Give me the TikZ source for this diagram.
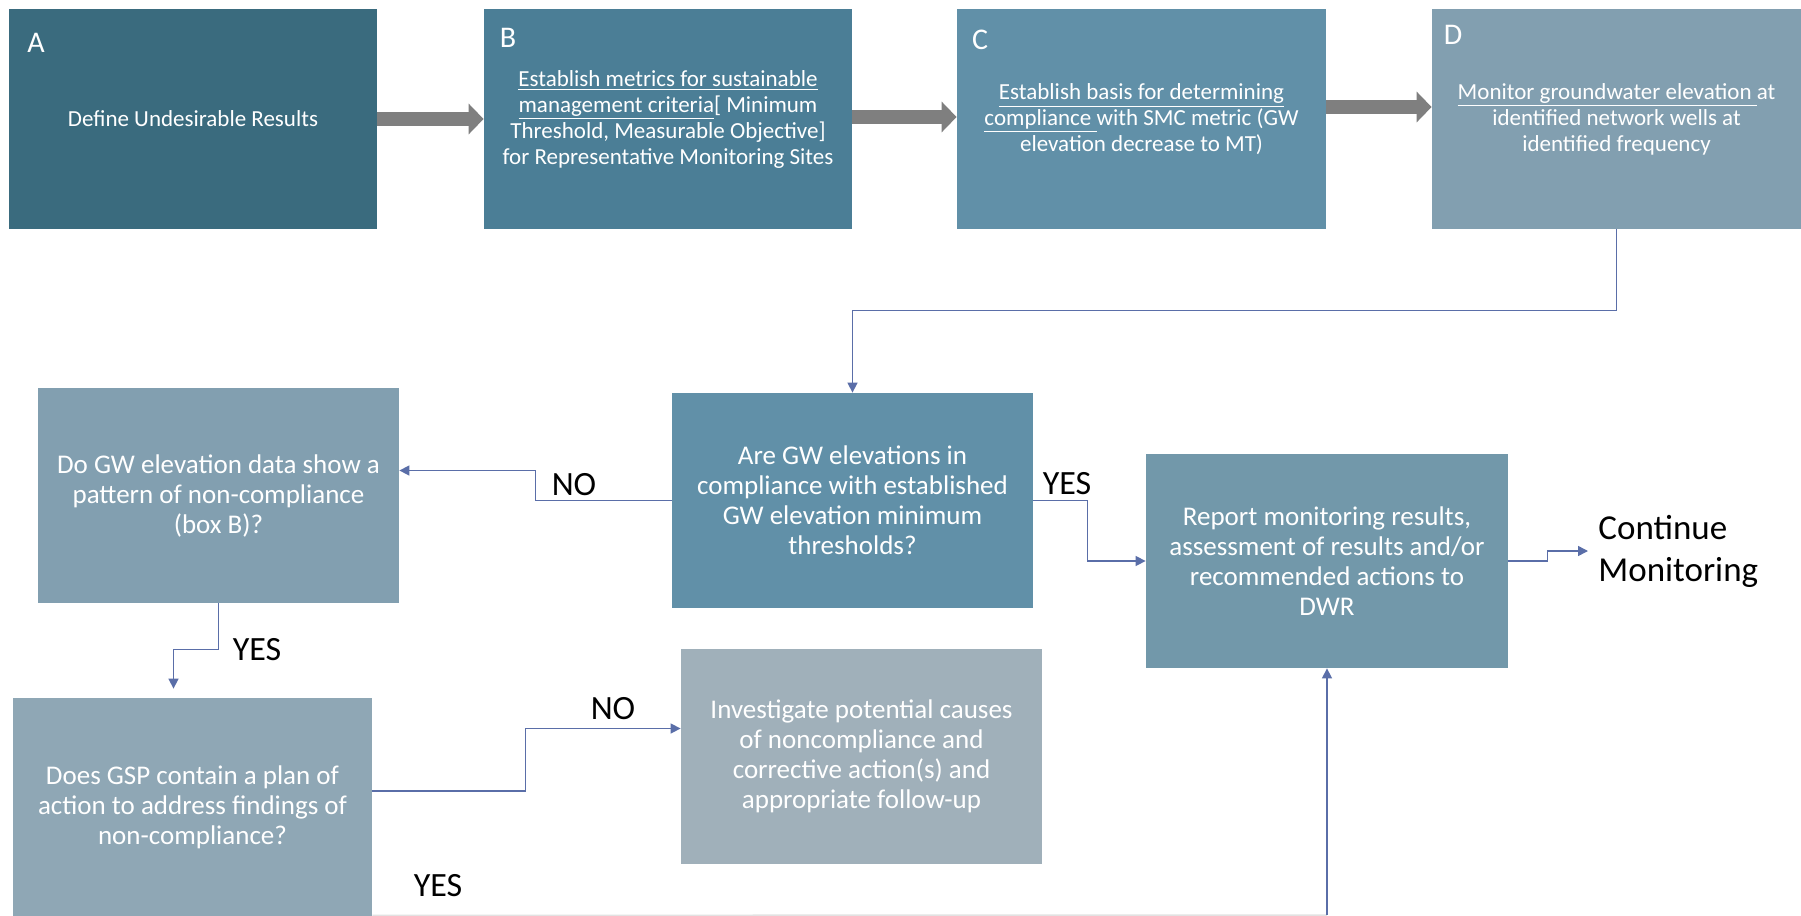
\documentclass[tikz,border=0pt]{standalone}
\usepackage{fontspec}
\setmainfont{Carlito}
\usetikzlibrary{arrows.meta}
\definecolor{cA}{HTML}{3A6B7E}
\definecolor{cB}{HTML}{4B7E96}
\definecolor{cC}{HTML}{6190A8}
\definecolor{cD}{HTML}{829FB0}
\definecolor{cQ}{HTML}{6190A8}
\definecolor{cP}{HTML}{829FB0}
\definecolor{cR}{HTML}{7298AA}
\definecolor{cG}{HTML}{8FA7B5}
\definecolor{cI}{HTML}{A0B0BA}
\definecolor{conncol}{HTML}{5A6EA8}
\definecolor{bigcol}{HTML}{7F7F7F}
\definecolor{faintcol}{HTML}{E2E2E2}
\begin{document}
\begin{tikzpicture}[x=0.5pt,y=-0.5pt,
  box/.style={rectangle, inner sep=0pt, text=white, align=center},
  topbox/.style={box, minimum width=184pt, minimum height=110pt, font=\fontsize{11.5}{13}\selectfont},
  midbox/.style={box, minimum width=180.5pt, minimum height=107.5pt, font=\fontsize{13.5}{15}\selectfont},
  letter/.style={text=white, inner sep=0pt, font=\fontsize{15}{18}\selectfont},
  lbl/.style={inner sep=0pt, font=\fontsize{17}{20}\selectfont},
  big/.style={draw=bigcol, line width=7pt, -{Triangle[length=7.5pt,width=15pt]}},
  conn/.style={draw=conncol, line width=0.75pt, -{Triangle[length=5pt,width=5pt]}}]
\useasboundingbox (0,0) rectangle (1801,916);
\fill[white] (0,0) rectangle (1801,916);

% top row
\node[topbox, fill=cA] (A) at (193,119) {Define Undesirable Results};
\node[topbox, fill=cB] (B) at (668,119) {\underline{Establish metrics for sustainable}\\ \underline{management criteria}[ Minimum\\ Threshold, Measurable Objective]\\ for Representative Monitoring Sites};
\node[topbox, fill=cC, minimum width=184.5pt] (C) at (1141.5,119) {\underline{Establish basis for determining}\\ \underline{compliance }with SMC metric (GW\\ elevation decrease to MT)};
\node[topbox, fill=cD, minimum width=184.5pt] (D) at (1616.5,119) {\underline{Monitor groundwater elevation }at\\ identified network wells at\\ identified frequency};

\node[letter] (la) at (36,43) {A};
\node[letter] (lb) at (508,38) {B};
\node[letter] (lc) at (980,40) {C};
\node[letter] (ld) at (1453,35) {D};

% middle and bottom
\node[midbox, fill=cQ] (Q) at (852.5,500.5) {Are GW elevations in\\ compliance with established\\ GW elevation minimum\\ thresholds?};
\node[midbox, fill=cP] (P) at (218.5,495.5) {Do GW elevation data show a\\ pattern of non-compliance\\ (box B)?};
\node[midbox, fill=cR, minimum width=181pt, minimum height=107pt] (R) at (1327,561) {Report monitoring results,\\ assessment of results and/or\\ recommended actions to\\ DWR};
\node[midbox, fill=cG, minimum width=179.5pt, minimum height=109pt] (G) at (192.5,807) {Does GSP contain a plan of\\ action to address findings of\\ non-compliance?};
\node[midbox, fill=cI] (I) at (861.5,756.5) {Investigate potential causes\\ of noncompliance and\\ corrective action(s) and\\ appropriate follow-up};

\node[anchor=west, inner xsep=5pt, inner ysep=0pt, align=left, font=\fontsize{17.5}{21}\selectfont] (cont) at (1588,551) {Continue\\Monitoring};

% labels
\node[lbl] (no1) at (574,485) {NO};
\node[lbl] (yes1) at (1067,484) {YES};
\node[lbl] (yes2) at (257,650) {YES};
\node[lbl] (no2) at (613,709) {NO};
\node[lbl] (yes3) at (438,886) {YES};

% big arrows
\draw[big] (A.east) -- (B.west);
\draw[big] ([yshift=1pt]B.east) -- ([yshift=1pt]C.west);
\draw[big] ([yshift=6pt]C.east) -- ([yshift=6pt]D.west);

% connectors
\draw[conn] (D.south) -- ++(0,81) -| (Q.north);
\draw[conn] (Q.west) -- ++(-136,0) |- ([yshift=12.5pt]P.east);
\draw[conn] (Q.east) -- ++(54,0) |- (R.west);
\draw[conn] (R.east) -- ++(39,0) |- (cont.west);
\draw[conn] (P.south) -- ++(0,46) -| ([xshift=-9.5pt,yshift=4.5pt]G.north);
\draw[conn] ([yshift=8pt]G.east) -- ++(153,0) |- ([yshift=14pt]I.west);
\coordinate (bend) at (1327,915);
\draw[faintcol, line width=0.75pt] ([yshift=0.5pt]G.south east) -- (bend);
\draw[conn] (bend) -- (R.south);
\end{tikzpicture}
\end{document}
